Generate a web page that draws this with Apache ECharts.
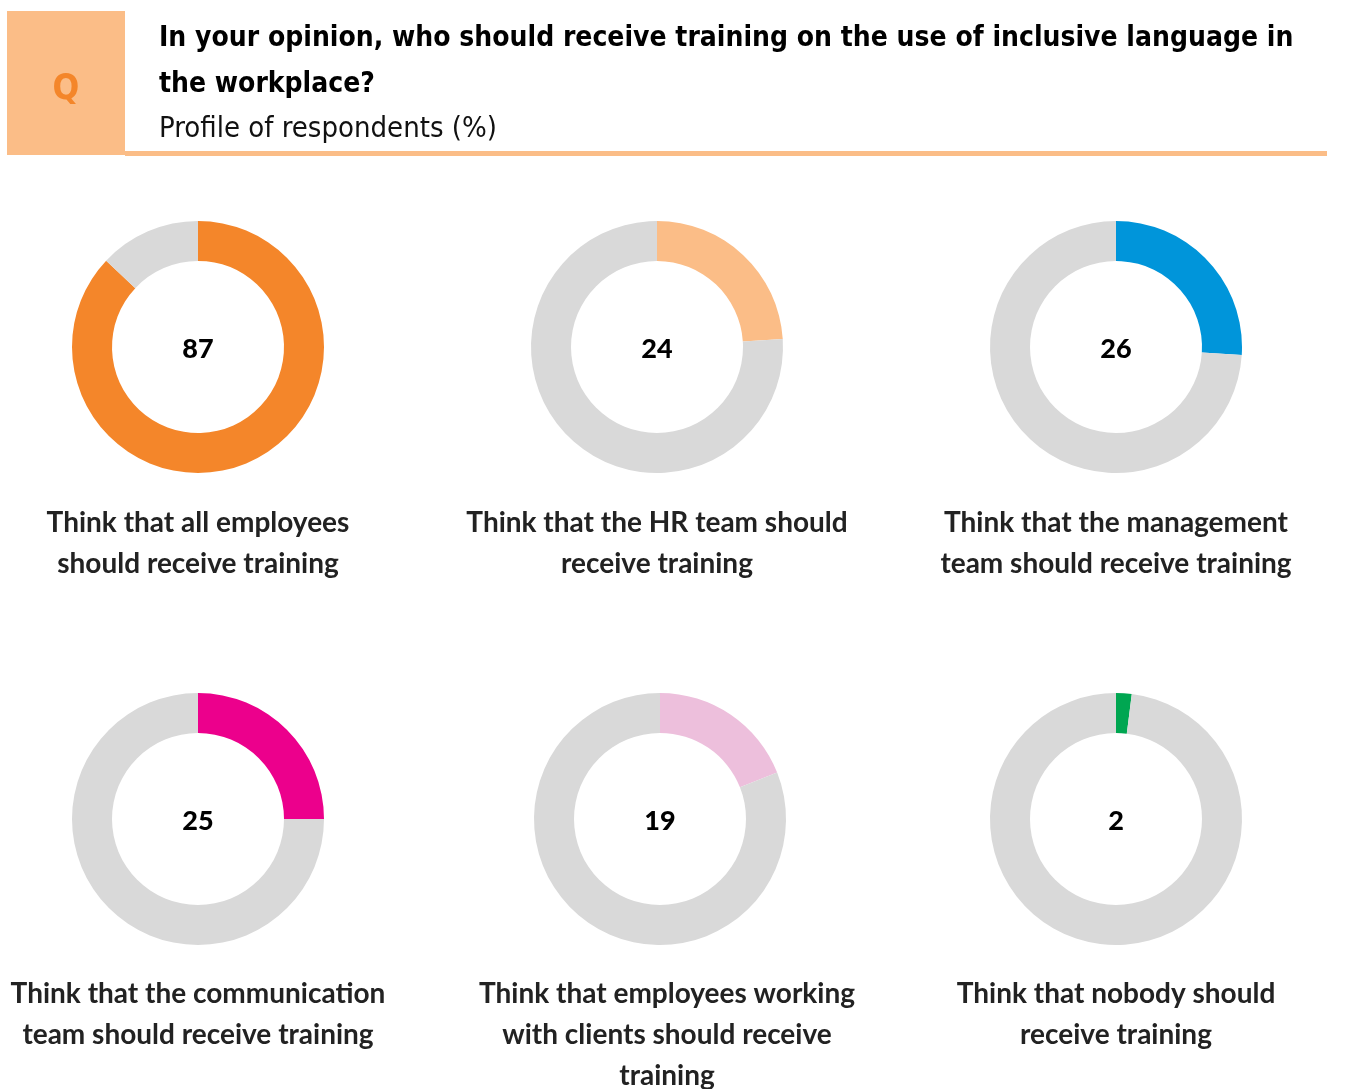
<!DOCTYPE html>
<html>
<head>
<meta charset="utf-8">
<script src="https://cdn.jsdelivr.net/npm/echarts@6/dist/echarts.min.js"></script>
<style>
  html, body { margin: 0; padding: 0; background: #fff; }
  #chart { width: 1346px; height: 1089px; }
</style>
</head>
<body>
<div id="chart"></div>
<script>
// Survey answers: share of respondents (%) per group that should be trained
const categories = [
  'Think that all employees\nshould receive training',
  'Think that the HR team should\nreceive training',
  'Think that the management\nteam should receive training',
  'Think that the communication\nteam should receive training',
  'Think that employees working\nwith clients should receive\ntraining',
  'Think that nobody should\nreceive training'
];
const values = [87, 24, 26, 25, 19, 2];
const sliceColors = ['#F4862A', '#FBBD87', '#0095DA', '#EC008C', '#EDBFDC', '#00A651'];
const restColor = '#D9D9D9';

const questionText = 'In your opinion, who should receive training on the use of inclusive language in\nthe workplace?';
const subtitleText = 'Profile of respondents (%)';

// Grid layout: donut centres and caption centres
const donutCenters = [[198, 347], [657, 347], [1116, 347], [198, 819], [660, 819], [1116, 819]];
const captionX = [198, 657, 1116, 198, 667, 1116];
const captionTop = [502, 502, 502, 973, 973, 973];

const labelFont = 'Lato, "Open Sans", sans-serif';
const headFont = '"DejaVu Sans Condensed", "Liberation Sans Narrow", sans-serif';

const chart = echarts.init(document.getElementById('chart'), null, { renderer: 'canvas' });

const series = values.map((v, i) => ({
  type: 'pie',
  silent: true,
  center: donutCenters[i],
  radius: [86, 126],
  startAngle: 90,
  clockwise: true,
  avoidLabelOverlap: false,
  labelLine: { show: false },
  itemStyle: { borderWidth: 0 },
  data: [
    {
      value: v,
      itemStyle: { color: sliceColors[i] },
      label: {
        show: true,
        position: 'center',
        formatter: String(v),
        fontFamily: labelFont,
        fontWeight: 900,
        fontSize: 27,
        color: '#000',
        offset: [0, 2]
      }
    },
    { value: 100 - v, itemStyle: { color: restColor }, label: { show: false } }
  ]
}));

const captions = categories.map((c, i) => ({
  type: 'text',
  style: {
    text: c,
    x: captionX[i],
    y: captionTop[i],
    align: 'center',
    verticalAlign: 'top',
    fontFamily: labelFont,
    fontWeight: 'bold',
    fontSize: 28,
    lineHeight: 41,
    fill: '#222'
  }
}));

chart.setOption({
  animation: false,
  backgroundColor: '#fff',
  series: series,
  graphic: [
    // Q badge
    { type: 'rect', shape: { x: 7, y: 11, width: 118, height: 144 }, style: { fill: '#FBBD87' } },
    {
      type: 'text',
      style: {
        text: 'Q', x: 66, y: 90, align: 'center', verticalAlign: 'middle',
        fontFamily: headFont, fontWeight: 'bold', fontSize: 35, fill: '#F4862A'
      }
    },
    // rule under the heading
    { type: 'rect', shape: { x: 125, y: 151, width: 1202, height: 5 }, style: { fill: '#FBBD87' } },
    {
      type: 'text',
      style: {
        text: questionText, x: 159, y: 16, align: 'left', verticalAlign: 'top',
        fontFamily: headFont, fontWeight: 'bold', fontSize: 28, lineHeight: 46, fill: '#000'
      }
    },
    {
      type: 'text',
      style: {
        text: subtitleText, x: 159, y: 115, align: 'left', verticalAlign: 'top',
        fontFamily: headFont, fontSize: 29, fill: '#111'
      }
    }
  ].concat(captions)
});
</script>
</body>
</html>
